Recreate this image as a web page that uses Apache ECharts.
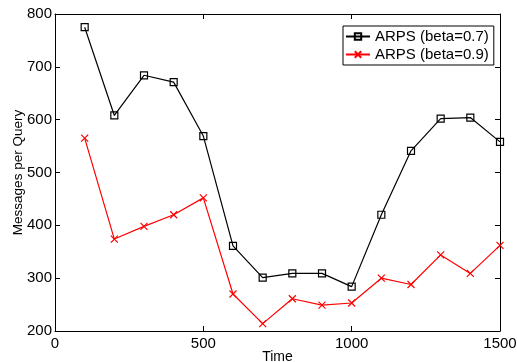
<!DOCTYPE html>
<html><head><meta charset="utf-8">
<script src="https://cdn.jsdelivr.net/npm/echarts@6/dist/echarts.min.js"></script>
<style>html,body{margin:0;padding:0;background:#fff}#c{width:517px;height:362px}</style>
</head><body><div id="c"></div>
<script>
const times = [100,200,300,400,500,600,700,800,900,1000,1100,1200,1300,1400,1500];
const beta07 = [775,608,684,671,569,361,301,309,309,284,420,541,602,604,558];
const beta09 = [565,374,398,420,452,270,214,261,249,253,300,288,344,309,362];
const seriesNames = ['ARPS (beta=0.7)','ARPS (beta=0.9)'];

const font = 'Liberation Sans, Arial, sans-serif';
const chart = echarts.init(document.getElementById('c'));
const axisCommon = {
  axisLine:{show:true,onZero:false,lineStyle:{color:'#000',width:1}},
  axisTick:{show:true,inside:true,length:5,lineStyle:{color:'#000'}},
  splitLine:{show:false}
};
const cross = 'path://M0,0L10,10M10,0L0,10';
chart.setOption({
  animation:false,
  grid:{left:55,right:17,top:14,bottom:31,containLabel:false,outerBoundsMode:'none'},
  legend:{
    data:seriesNames, left:343, top:26, orient:'vertical',
    backgroundColor:'#fff', borderColor:'#000', borderWidth:1,
    padding:[3,5,3,2], itemGap:3, itemWidth:24, itemHeight:8,
    textStyle:{fontFamily:font,fontSize:15,color:'#000'}
  },
  xAxis:[
    Object.assign({type:'value',min:0,max:1500,interval:500,name:'Time',nameLocation:'middle',nameGap:19,nameMoveOverlap:false,
      nameTextStyle:{fontFamily:font,fontSize:14,color:'#000'},
      axisLabel:{fontFamily:font,fontSize:15,color:'#000',margin:5,formatter:v=>String(v)}},axisCommon),
    Object.assign({type:'value',min:0,max:1500,interval:500,position:'top',axisLabel:{show:false}},axisCommon)
  ],
  yAxis:[
    Object.assign({type:'value',min:200,max:800,interval:100,name:'Messages per Query',nameLocation:'middle',nameGap:30,nameMoveOverlap:false,
      nameTextStyle:{fontFamily:font,fontSize:13.5,color:'#000'},
      axisLabel:{fontFamily:font,fontSize:15,color:'#000',margin:3,formatter:v=>String(v)}},axisCommon),
    Object.assign({type:'value',min:200,max:800,interval:100,position:'right',axisLabel:{show:false}},axisCommon)
  ],
  series:[
    {name:seriesNames[0],type:'line',data:times.map((t,i)=>[t,beta07[i]]),
      symbol:'rect',symbolSize:7,showAllSymbol:true,
      lineStyle:{color:'#000',width:1.2},
      itemStyle:{color:'rgba(255,255,255,0)',borderColor:'#000',borderWidth:1.2}},
    {name:seriesNames[1],type:'line',data:times.map((t,i)=>[t,beta09[i]]),
      symbol:cross,symbolSize:7,showAllSymbol:true,
      lineStyle:{color:'#ff0000',width:1.2},
      itemStyle:{color:'rgba(255,0,0,0)',borderColor:'#ff0000',borderWidth:1.2}}
  ]
});
</script></body></html>
